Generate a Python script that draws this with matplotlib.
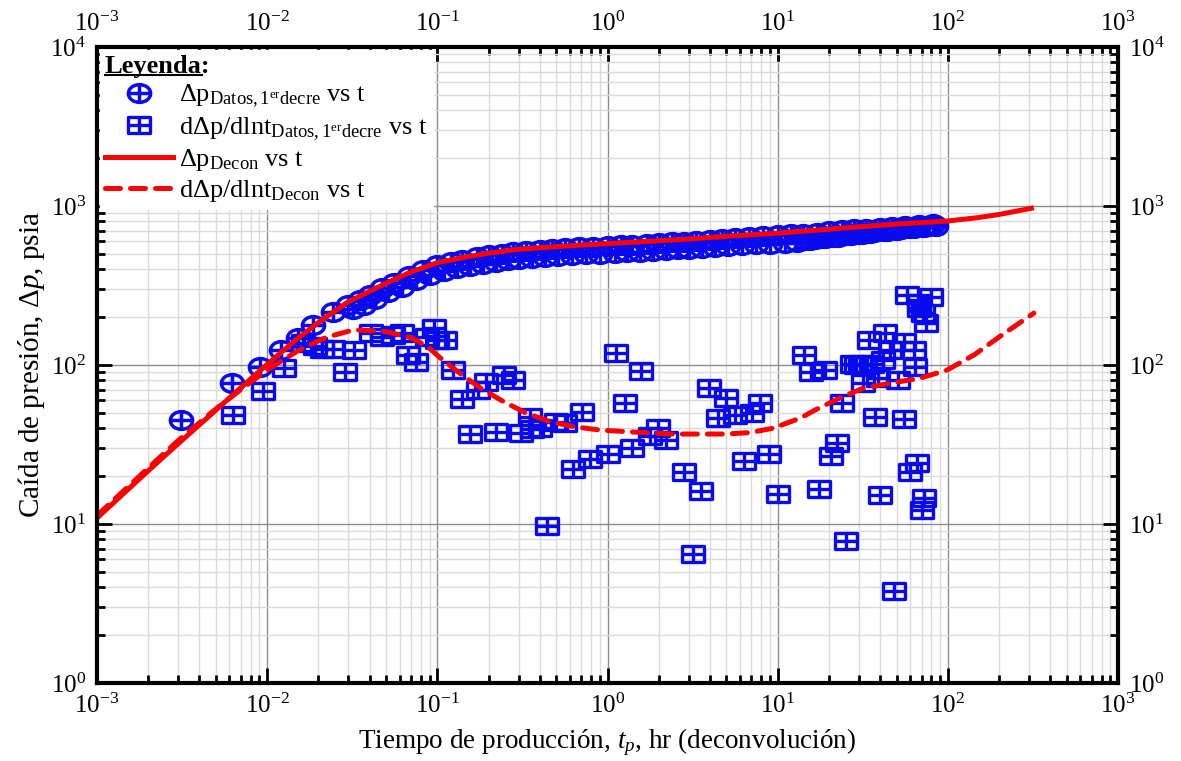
import matplotlib
matplotlib.use("Agg")
import matplotlib.pyplot as plt
import numpy as np
from matplotlib.path import Path
from matplotlib.lines import Line2D
from matplotlib.transforms import IdentityTransform
from matplotlib.ticker import LogLocator, NullFormatter, FixedLocator, LogFormatterSciNotation

plt.rcParams['font.family'] = 'serif'
plt.rcParams['font.serif'] = ['Liberation Serif', 'DejaVu Serif']
plt.rcParams['mathtext.fontset'] = 'custom'
plt.rcParams['mathtext.rm'] = 'Liberation Serif'
plt.rcParams['mathtext.it'] = 'Liberation Serif:italic'
plt.rcParams['mathtext.bf'] = 'Liberation Serif:bold'
plt.rcParams['axes.unicode_minus'] = False

# Pressure data (1er decremento) - early points
t_dp_early = [0.0031, 0.0062, 0.0091, 0.0121, 0.0152, 0.0187, 0.0245]
dp_early = [44.8, 77.4, 97.6, 124, 147, 179, 216]

# upper branch of the pressure data
t_dp_up = [0.03, 0.035, 0.04, 0.047, 0.056, 0.068, 0.082, 0.1, 0.12, 0.14, 0.17, 0.2,
           0.24, 0.28, 0.33, 0.4, 0.47, 0.56, 0.68, 0.82, 1, 1.2, 1.4, 1.7, 2, 2.4,
           2.8, 3.3, 4, 4.7, 5.6, 6.8, 8.2, 10, 12, 14, 17, 20, 24, 28, 33, 40, 47,
           56, 68, 82]
dp_up = [240, 258, 276, 304, 328, 362, 395, 425, 445, 460, 476, 490,
         502, 514, 521, 530, 536, 541, 549, 556, 563, 568, 572, 579, 587, 592,
         598, 604, 613, 620, 628, 636, 645, 655, 663, 671, 681, 694, 702, 713, 722, 732, 742,
         752, 763, 773]

# lower branch of the pressure data
t_dp_low = [0.032, 0.037, 0.043, 0.051, 0.062, 0.075, 0.09, 0.11, 0.13, 0.155, 0.185,
            0.22, 0.26, 0.3, 0.36, 0.43, 0.51, 0.62, 0.75, 0.9, 1.1, 1.3, 1.55, 1.85,
            2.2, 2.6, 3.0, 3.6, 4.3, 5.1, 6.2, 7.5, 9.0, 11, 13]
dp_low = [224, 239, 261, 287, 311, 342, 370, 392, 407, 420, 433,
          445, 456, 464, 470, 478, 483, 489, 496, 502, 506, 512, 516, 523,
          528, 533, 539, 545, 553, 560, 567, 574, 580, 585, 590]

# late, denser pressure data
t_dp_late = [14.5, 15.5, 16.5, 18, 19, 21, 22.5, 25.5, 27, 30, 31.5, 35, 37, 42, 44,
             50, 53, 60, 63, 72, 76, 85]
dp_late = [611, 613, 620, 625, 633, 638, 642, 655, 659, 664, 671, 680, 683, 694, 700,
           707, 713, 724, 727, 740, 746, 751]

# Derivative data
t_der = [0.0063, 0.0094, 0.0125, 0.0162, 0.019, 0.0209, 0.0245, 0.0286, 0.0322, 0.041,
         0.047, 0.055, 0.062, 0.067, 0.0754, 0.087, 0.095, 0.099, 0.111, 0.123, 0.139,
         0.155, 0.174, 0.194, 0.22, 0.245, 0.278, 0.312, 0.35, 0.36, 0.4, 0.44, 0.5,
         0.56, 0.63, 0.71, 0.79, 1.0, 1.12, 1.26, 1.4, 1.57, 1.77, 1.99, 2.22, 2.82,
         3.16, 3.55, 3.97, 4.46, 5.0, 5.6, 6.3, 7.1, 7.9, 8.9, 10.0, 14.2, 15.8, 17.4,
         19, 20.5, 22.3, 23.8, 25.3, 27.2, 29, 30.3, 31.6, 32.5, 34.5, 36, 37.5, 39, 40,
         41.8, 42.7, 45.4, 48.5, 51, 55, 55.5, 57.4, 59.7, 63, 64.5, 65.5, 67.6, 68,
         70.6, 71, 72.6, 74.6, 79.6]
der = [48.5, 69, 95.5, 137, 131, 127, 127, 91, 125, 160,
       150, 155, 158, 116, 105, 150, 170, 144, 144, 93, 61,
       37, 70, 78.5, 38, 86.5, 80.5, 37.2, 47.3, 39.6, 40, 9.7, 44,
       43, 22.1, 50.9, 25.5, 27.6, 118.5, 58, 29.9, 92, 35.8, 40, 34, 21.3,
       6.45, 16.2, 71.3, 46.2, 61.8, 48.5, 25, 50, 57.4, 27.4, 15.4, 115.6, 90.8, 16.7,
       93, 26.8, 32.1, 57.4, 7.85, 101, 100, 101, 76.7, 100, 144, 102, 47.3, 82.4, 15.2,
       107, 158, 124, 3.8, 81, 45.7, 140, 275, 21.3, 124, 97.6, 24.1, 227, 244,
       12.3, 211, 14.5, 183, 269]

# Deconvolution model
t_decon = [0.001, 0.002, 0.003, 0.005, 0.007, 0.01, 0.015, 0.02, 0.03, 0.05, 0.07, 0.1,
           0.15, 0.2, 0.3, 0.5, 0.7, 1, 2, 3, 5, 10, 20, 30, 50, 100, 150, 200, 320]
dp_decon = [10.9, 21.6, 32, 52, 72, 101, 146, 185, 250, 327, 385, 440,
            480, 505, 535, 555, 568, 580, 605, 620, 645, 675, 715, 740, 770, 805, 845, 885, 975]

t_decon_der = [0.001, 0.002, 0.003, 0.005, 0.007, 0.01, 0.015, 0.02, 0.0226, 0.03, 0.034,
               0.049, 0.071, 0.088, 0.105, 0.135, 0.178, 0.24, 0.33, 0.46, 0.63, 0.9,
               1.29, 2.4, 5.0, 6.9, 9.35, 13.5, 16.8, 23, 31.6, 45.4, 68, 99, 143, 200, 320]
der_decon = [11.3, 22.5, 33.5, 53, 70, 93, 122, 142, 150, 163, 166,
             163, 148, 130, 110, 89, 72, 59.6, 50, 44, 41, 39,
             38.1, 36.8, 36.8, 37.6, 40, 46.2, 52.5, 61.8, 71.3, 76.7, 82.4, 93, 116, 150, 212]

x_major = [1e-3, 1e-2, 1e-1, 1e0, 1e1, 1e2, 1e3]
y_major = [1e0, 1e1, 1e2, 1e3, 1e4]

# custom markers: circle with cross, rectangle split in four
circ = Path.unit_circle()
circ = Path(circ.vertices * [1.25, 1.0], circ.codes)
cross_h = Path([[-1.25, 0], [1.25, 0]], [Path.MOVETO, Path.LINETO])
cross_v = Path([[0, -1], [0, 1]], [Path.MOVETO, Path.LINETO])
circ_cross = Path.make_compound_path(circ, cross_h, cross_v)

w, h = 1.3, 1.0
rect = Path([[-w, -h], [w, -h], [w, h], [-w, h], [-w, -h]],
            [Path.MOVETO, Path.LINETO, Path.LINETO, Path.LINETO, Path.CLOSEPOLY])
rh = Path([[-w, 0], [w, 0]], [Path.MOVETO, Path.LINETO])
rv = Path([[0, -h], [0, h]], [Path.MOVETO, Path.LINETO])
rect_cross = Path.make_compound_path(rect, rh, rv)

blue = '#0a0aee'
red = '#ff0000'

fig = plt.figure(figsize=(11.81, 7.61), dpi=100)
ax = fig.add_axes([0.0821, 0.1025, 0.8646, 0.8357])

circ_kw = dict(ls='none', marker=circ_cross, ms=16, mfc='none', mec=blue, mew=2.5)
ax.plot(t_dp_early, dp_early, **circ_kw)
ax.plot(t_dp_up, dp_up, **circ_kw)
ax.plot(t_dp_low, dp_low, **circ_kw)
ax.plot(t_dp_late, dp_late, **circ_kw)

sq_kw = dict(ls='none', marker=rect_cross, ms=15.5, mfc='none', mec=blue, mew=2.4)
ax.plot(t_der, der, **sq_kw)

ax.plot(t_decon, dp_decon, color=red, lw=3.6, solid_capstyle='butt')
ax.plot(t_decon_der, der_decon, color=red, lw=3.6, dashes=(3, 2), dash_capstyle='round')

ax.set_xscale('log')
ax.set_yscale('log')
ax.set_xlim(1e-3, 1e3)
ax.set_ylim(1, 1e4)

ax.xaxis.set_major_locator(FixedLocator(x_major))
ax.yaxis.set_major_locator(FixedLocator(y_major))
ax.xaxis.set_major_formatter(LogFormatterSciNotation())
ax.yaxis.set_major_formatter(LogFormatterSciNotation())
ax.xaxis.set_minor_locator(LogLocator(base=10, subs=np.arange(2, 10), numticks=20))
ax.yaxis.set_minor_locator(LogLocator(base=10, subs=np.arange(2, 10), numticks=20))
ax.xaxis.set_minor_formatter(NullFormatter())
ax.yaxis.set_minor_formatter(NullFormatter())

ax.grid(True, which='major', color='#8c8c8c', lw=1.0)
ax.grid(True, which='minor', color='#dadada', lw=1.0)
ax.set_axisbelow(True)

ax.tick_params(which='both', direction='in', top=True, right=True,
               labeltop=True, labelright=True, width=2, colors='black')
ax.tick_params(which='major', length=11, labelsize=18, pad=8)
ax.tick_params(which='minor', length=6)
for s in ax.spines.values():
    s.set_linewidth(3)

ax.set_xlabel('Tiempo de producción, $t_p$, hr (deconvolución)', fontsize=19.5, labelpad=6)
ax.set_ylabel('Caída de presión, $\\mathit{Δp}$, psia', fontsize=21, labelpad=2)

handles = [
    Line2D([], [], **circ_kw),
    Line2D([], [], **sq_kw),
    Line2D([], [], color=red, lw=3.6),
    Line2D([], [], color=red, lw=3.6, dashes=(3, 2), dash_capstyle='round'),
]
labels = [
    'Δp$_{\\mathrm{Datos,1^{er}decre}}$ vs t',
    'dΔp/dlnt$_{\\mathrm{Datos,1^{er}decre}}$ vs t',
    'Δp$_{\\mathrm{Decon}}$ vs t',
    'dΔp/dlnt$_{\\mathrm{Decon}}$ vs t',
]
leg = ax.legend(handles, labels, loc='upper left', fontsize=19, title='Leyenda:',
                title_fontproperties={'size': 19, 'weight': 'bold'},
                frameon=True, fancybox=False, framealpha=1, edgecolor='white',
                borderaxespad=0.1, handlelength=2.6, handletextpad=0.2,
                labelspacing=0.18, borderpad=0.2)
leg._legend_box.align = 'left'
leg.set_zorder(6)

# underline "Leyenda"
fig.canvas.draw()
r = fig.canvas.get_renderer()
tb = leg.get_title().get_window_extent(r)
tmp = fig.text(0, 0, 'Leyenda', fontsize=19, fontweight='bold')
tw = tmp.get_window_extent(r).width
tmp.remove()
fig.add_artist(Line2D([tb.x0, tb.x0 + tw], [tb.y0 + 3, tb.y0 + 3], color='black', lw=1.5,
                      transform=IdentityTransform(), zorder=10))

fig.savefig('out.png', dpi=100)
